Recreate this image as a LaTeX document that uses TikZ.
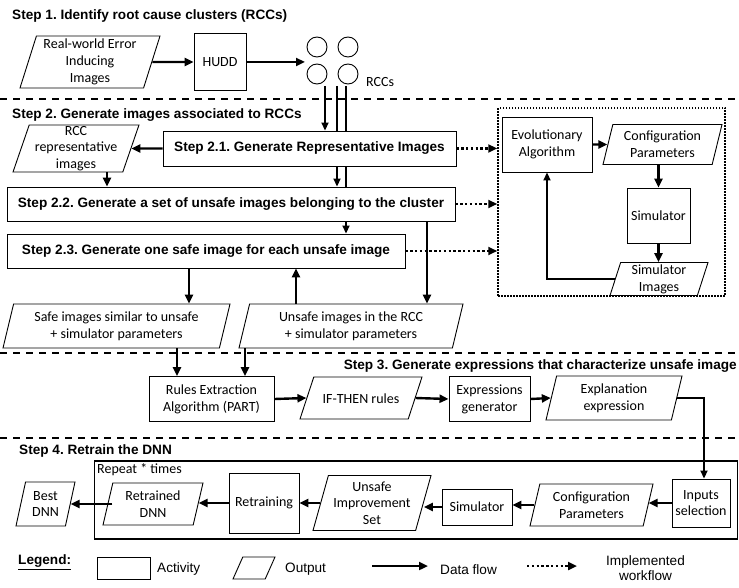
\documentclass[tikz,border=0pt]{standalone}
\usepackage{fontspec}
\setmainfont{Carlito}
\newfontfamily\arialfont{Liberation Sans}
\usetikzlibrary{shapes.geometric,arrows.meta}
\frenchspacing
\tikzset{
 cal/.style={font=\fontsize{14}{16.8}\selectfont},
 actbox/.style={draw, line width=0.9pt, align=center, inner sep=1pt, cal},
 outpara/.style={draw, line width=0.9pt, align=center, inner sep=1pt, cal, trapezium, trapezium left angle=71, trapezium right angle=109, trapezium stretches body},
 stepbox/.style={draw, line width=0.9pt, inner sep=2pt, font=\arialfont\bfseries\fontsize{13.6}{16}\selectfont},
 ttl/.style={font=\arialfont\bfseries\fontsize{13.6}{16}\selectfont, inner sep=0pt},
 lgd/.style={font=\arialfont\fontsize{13.6}{15}\selectfont, inner sep=0pt, align=center},
 flow/.style={line width=2.4pt, -{Triangle[length=9pt,width=8pt]}},
 thinflow/.style={line width=1.8pt, -{Triangle[length=8pt,width=7pt]}},
 plain/.style={line width=1.8pt},
 impl/.style={line width=2.4pt, dash pattern=on 2.4pt off 2.4pt, -{Triangle[length=9pt,width=8pt]}},
 sep/.style={line width=1.8pt, dash pattern=on 7pt off 6pt},
 rccirc/.style={circle, draw, line width=0.9pt, minimum size=20pt, inner sep=0pt},
}
\begin{document}
\begin{tikzpicture}[x=1pt,y=-1pt]
\useasboundingbox (0,0) rectangle (739,588);

% ---------- Step 1
\node[ttl, anchor=west] (t1) at (12,16) {Step 1. Identify root cause clusters (RCCs)};
\node[outpara, minimum width=140pt, minimum height=52pt] (rw) at (90,62) {Real-world Error\\Inducing\\Images};
\node[actbox, minimum width=52pt, minimum height=57pt] (hudd) at (220,62) {HUDD};
\node[rccirc] (c1) at (317,47) {};
\node[rccirc] (c2) at (348,47) {};
\node[rccirc] (c3) at (317,74) {};
\node[rccirc] (c4) at (348,74) {};
\node[cal, anchor=west, inner sep=0pt] (rccl) at (366,82) {RCCs};
\coordinate (cin) at (305,62);
\draw[flow] (rw.east) -- (hudd.west);
\draw[flow] (hudd.east) -- (cin);

\coordinate (sa1) at (0,99); \coordinate (sb1) at (739,99);
\draw[sep] (sa1) -- (sb1);

% ---------- Step 2
\node[ttl, anchor=west] (t2) at (12,115) {Step 2. Generate images associated to RCCs};
\node[outpara, minimum width=126pt, minimum height=47pt] (rccimg) at (76,148.5) {RCC\\representative\\images};
\node[stepbox, minimum width=293pt, minimum height=35pt] (s21) at (309.5,148.5) {Step 2.1. Generate Representative Images};
\node[stepbox, minimum width=448pt, minimum height=34pt] (s22) at (231,204) {Step 2.2. Generate a set of unsafe images belonging to the cluster};
\node[stepbox, minimum width=398pt, minimum height=34pt] (s23) at (206,251) {Step 2.3. Generate one safe image for each unsafe image};

\coordinate (l1) at (325,86); \coordinate (l2) at (337,86); \coordinate (l3) at (346,86);
\draw[thinflow] (l1) -- (l1 |- s21.north);
\draw[plain] (l2) -- (l2 |- s21.north);
\draw[thinflow] (l2 |- s21.south) -- (l2 |- s22.north);
\draw[plain] (l3) -- (l3 |- s21.north);
\draw[plain] (l3 |- s21.south) -- (l3 |- s22.north);
\draw[thinflow] (l3 |- s22.south) -- (l3 |- s23.north);

\draw[flow] (s21.west) -- (rccimg.east);
\coordinate (xr) at (107,0);
\draw[flow] (xr |- rccimg.south) -- (xr |- s22.north);

\node[draw, line width=1.5pt, dash pattern=on 1.5pt off 1.5pt, minimum width=227pt, minimum height=188pt, inner sep=0pt] (implbox) at (611.5,202) {};
\draw[impl] (s21.east) -- (s21.east -| implbox.west);
\draw[impl] (s22.east) -- (s22.east -| implbox.west);
\draw[impl] (s23.east) -- (s23.east -| implbox.west);

\node[actbox, minimum width=90pt, minimum height=55pt] (ea) at (547,144.5) {Evolutionary\\Algorithm};
\node[outpara, minimum width=119pt, minimum height=40pt] (cfg) at (662.5,144.5) {Configuration\\Parameters};
\draw[flow] (ea.east) -- (cfg.west);
\node[actbox, minimum width=63pt, minimum height=55pt] (sim) at (658.5,215.5) {Simulator};
\draw[flow] (sim.north |- cfg.south) -- (sim.north);
\node[outpara, minimum width=98pt, minimum height=33pt] (simimg) at (659,279) {Simulator\\Images};
\draw[flow] (sim.south) -- (sim.south |- simimg.north);
\draw[thinflow] (simimg.west) -| (ea.south);

\node[outpara, minimum width=227pt, minimum height=44pt] (safe) at (116.5,326) {Safe images similar to unsafe\\+ simulator parameters};
\node[outpara, minimum width=224pt, minimum height=44pt] (unsafe) at (351,326) {Unsafe images in the RCC\\+ simulator parameters};
\coordinate (xa) at (189,0); \coordinate (xb) at (296,0); \coordinate (xc) at (427,0);
\draw[flow] (xa |- s23.south) -- (xa |- safe.north);
\draw[flow] (xb |- unsafe.north) -- (xb |- s23.south);
\draw[flow] (xc |- s22.south) -- (xc |- unsafe.north);

\coordinate (sa2) at (0,353); \coordinate (sb2) at (739,353);
\draw[sep] (sa2) -- (sb2);

% ---------- Step 3
\node[ttl, anchor=east] (t3) at (737,366) {Step 3. Generate expressions that characterize unsafe image};
\node[actbox, minimum width=125pt, minimum height=45pt] (rules) at (211.5,399) {Rules Extraction\\Algorithm (PART)};
\coordinate (xd) at (177,0); \coordinate (xe) at (245,0);
\draw[flow] (xd |- safe.south) -- (xd |- rules.north);
\draw[flow] (xe |- unsafe.south) -- (xe |- rules.north);
\node[outpara, minimum width=122pt, minimum height=42pt] (ifr) at (361,398) {\rule[-14pt]{0pt}{38pt}IF-THEN rules};
\node[actbox, minimum width=81pt, minimum height=45pt] (expr) at (489.5,399) {Expressions\\generator};
\node[outpara, minimum width=136pt, minimum height=44pt] (expl) at (614,398) {Explanation\\expression};
\draw[flow] (rules.east) -- (ifr.west);
\draw[flow] (ifr.east) -- (expr.west);
\draw[flow] (expr.east) -- (expl.west);

\coordinate (sa3) at (0,438); \coordinate (sb3) at (739,438);
\draw[sep] (sa3) -- (sb3);

% ---------- Step 4
\node[ttl, anchor=west] (t4) at (19,451) {Step 4. Retrain the DNN};
\node[draw, line width=1.6pt, minimum width=643pt, minimum height=78pt, inner sep=0pt] (rep) at (416,500) {};
\node[cal, anchor=north west, inner sep=0pt] (reptxt) at (97,463) {Repeat * times};
\node[outpara, minimum width=59pt, minimum height=44pt] (best) at (45.5,504) {Best\\DNN};
\node[outpara, minimum width=100pt, minimum height=42pt] (retr) at (153,504) {Retrained\\DNN};
\node[actbox, minimum width=70pt, minimum height=60pt] (retn) at (264,503) {Retraining};
\node[outpara, minimum width=118pt, minimum height=55pt, font=\fontsize{14}{16.5}\selectfont] (uis) at (372,503) {Unsafe\\Improvement\\Set};
\node[actbox, minimum width=70pt, minimum height=36pt] (sim2) at (477,507) {Simulator};
\node[outpara, minimum width=123pt, minimum height=42pt] (cfg2) at (591.5,505) {Configuration\\Parameters};
\node[actbox, minimum width=58pt, minimum height=48pt] (inp) at (701,503) {Inputs\\selection};

\draw[flow] (inp.west) -- (inp.west -| cfg2.east);
\draw[flow] (cfg2.west) -- (cfg2.west -| sim2.east);
\draw[flow] (sim2.west) -- (sim2.west -| uis.east);
\draw[flow] (uis.west) -- (uis.west -| retn.east);
\draw[flow] (retn.west) -- (retn.west -| retr.east);
\draw[flow] ([xshift=5pt]retr.west) -- (retr.west -| best.east);
\draw[thinflow] (expl.east) -| ([xshift=3pt]inp.north);

% ---------- Legend
\node[ttl, anchor=west] (lg) at (18,562) {\underline{Legend:}};
\node[draw, line width=0.9pt, minimum width=53pt, minimum height=22pt, inner sep=0pt] (lact) at (123.5,568) {};
\node[lgd, anchor=west] (lactt) at (157,569) {Activity};
\node[outpara, trapezium left angle=66, trapezium right angle=114, minimum width=42pt, minimum height=22pt, inner sep=0pt] (lout) at (254,568) {\rule{0pt}{22pt}};
\node[lgd, anchor=west] (loutt) at (285,569) {Output};
\coordinate (lf1) at (372,566); \coordinate (lf2) at (428,566);
\draw[flow] (lf1) -- (lf2);
\node[lgd, anchor=west] (lft) at (440,570) {Data flow};
\coordinate (li1) at (527,566); \coordinate (li2) at (577,566);
\draw[impl] (li1) -- (li2);
\node[lgd, anchor=west] (lit) at (606,568) {Implemented\\workflow};
\end{tikzpicture}
\end{document}
